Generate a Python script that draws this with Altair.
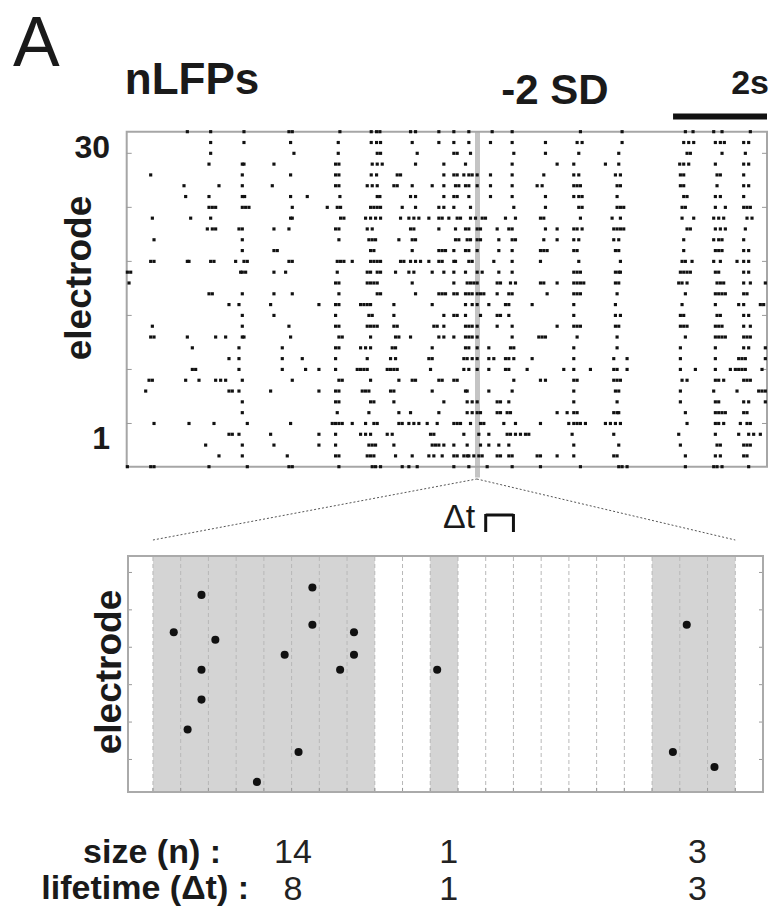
import altair as alt
import pandas as pd
import numpy as np

# ---------------- data ----------------
SAMPLE_RATE = 141.0          # Hz, raster sample rate
T_START, T_END = 78, 2000    # samples shown in the raster
N_ELECTRODES = 32
HIGHLIGHT_SAMPLE = 1131      # time window expanded below
SCALE_BAR_S = 2

# nLFP event samples per electrode row (top row first)
spike_samples_by_row = [
    [260, 330, 430, 565, 575, 718, 812, 828, 838, 930, 945, 1015, 1060, 1105, 1175, 1235, 1440, 1565, 1755, 1778, 1840, 1865, 1950],
    [330, 430, 570, 713, 812, 828, 840, 935, 1015, 1060, 1105, 1170, 1235, 1335, 1430, 1445, 1565, 1750, 1765, 1780, 1845, 1860, 1872, 1930, 1945],
    [330, 580, 713, 830, 840, 950, 1060, 1070, 1110, 1240, 1335, 1435, 1555, 1760, 1770, 1865, 1935],
    [325, 425, 430, 520, 705, 715, 815, 830, 845, 945, 1030, 1095, 1235, 1370, 1420, 1515, 1555, 1738, 1750, 1765, 1845, 1930, 1945],
    [150, 425, 570, 705, 715, 812, 828, 890, 900, 1030, 1060, 1070, 1090, 1105, 1115, 1130, 1170, 1235, 1330, 1420, 1435, 1545, 1560, 1740, 1750, 1850, 1860, 1930],
    [250, 355, 425, 515, 705, 715, 800, 815, 830, 880, 890, 935, 995, 1030, 1065, 1075, 1095, 1105, 1130, 1170, 1235, 1310, 1325, 1420, 1430, 1440, 1550, 1560, 1740, 1750, 1850, 1930, 1945],
    [255, 325, 425, 432, 570, 620, 718, 830, 838, 930, 945, 1030, 1060, 1070, 1105, 1170, 1235, 1335, 1420, 1435, 1445, 1550, 1750, 1760, 1845, 1860, 1930],
    [325, 335, 345, 425, 435, 445, 575, 680, 710, 720, 810, 820, 830, 840, 905, 945, 1015, 1030, 1060, 1110, 1240, 1335, 1435, 1445, 1550, 1560, 1570, 1745, 1755, 1845, 1875, 1930, 1940, 1950],
    [155, 270, 330, 570, 575, 720, 730, 795, 810, 825, 840, 900, 925, 940, 955, 985, 1015, 1025, 1045, 1070, 1080, 1110, 1125, 1145, 1155, 1215, 1245, 1320, 1330, 1440, 1535, 1560, 1745, 1780, 1840, 1855, 1870, 1940, 1955],
    [320, 335, 345, 415, 425, 520, 565, 705, 715, 800, 815, 930, 940, 1015, 1065, 1095, 1105, 1130, 1140, 1190, 1225, 1235, 1335, 1370, 1420, 1430, 1445, 1540, 1550, 1560, 1570, 1760, 1770, 1845, 1860, 1875, 1935],
    [160, 425, 715, 805, 815, 825, 895, 935, 945, 1065, 1075, 1100, 1110, 1130, 1140, 1195, 1235, 1245, 1330, 1370, 1420, 1435, 1540, 1555, 1750, 1840, 1855, 1865, 1930],
    [425, 520, 530, 810, 820, 935, 1015, 1025, 1035, 1060, 1095, 1105, 1130, 1195, 1235, 1320, 1330, 1340, 1420, 1430, 1545, 1555, 1750, 1845, 1855, 1865, 1930, 1945],
    [150, 160, 260, 265, 330, 340, 405, 430, 440, 565, 575, 710, 720, 730, 755, 810, 820, 830, 840, 900, 910, 930, 945, 960, 985, 1015, 1025, 1060, 1065, 1105, 1115, 1180, 1235, 1320, 1435, 1560, 1745, 1755, 1775, 1840, 1860, 1910, 1930, 1945],
    [80, 90, 420, 425, 435, 520, 555, 710, 800, 810, 830, 840, 885, 925, 940, 995, 1030, 1060, 1095, 1130, 1145, 1195, 1235, 1420, 1430, 1440, 1545, 1555, 1560, 1740, 1750, 1760, 1770, 1845, 1855, 1930, 1945],
    [85, 705, 715, 800, 810, 820, 830, 935, 1060, 1100, 1110, 1120, 1130, 1190, 1200, 1230, 1245, 1320, 1330, 1370, 1420, 1430, 1440, 1450, 1545, 1555, 1735, 1745, 1760, 1850, 1860, 1870, 1930, 1950, 1995],
    [325, 335, 425, 520, 575, 715, 830, 840, 945, 1015, 1025, 1035, 1060, 1070, 1095, 1105, 1115, 1130, 1140, 1150, 1190, 1225, 1235, 1340, 1420, 1430, 1440, 1550, 1755, 1845, 1855, 1865, 1875, 1930, 1940],
    [385, 415, 510, 655, 705, 715, 780, 790, 800, 810, 880, 995, 1095, 1115, 1130, 1165, 1215, 1225, 1295, 1420, 1545, 1745, 1845, 1915, 1930, 1980, 1990],
    [425, 520, 705, 805, 815, 880, 1030, 1060, 1070, 1095, 1140, 1190, 1200, 1225, 1420, 1545, 1560, 1740, 1750, 1850, 1860, 1930, 1945],
    [155, 425, 565, 705, 715, 800, 810, 820, 830, 880, 890, 1000, 1010, 1030, 1095, 1105, 1115, 1130, 1190, 1235, 1370, 1420, 1430, 1440, 1545, 1555, 1740, 1750, 1760, 1845, 1855, 1865, 1930, 1950],
    [150, 160, 260, 345, 375, 425, 430, 570, 715, 725, 810, 885, 895, 930, 1015, 1030, 1060, 1095, 1105, 1115, 1130, 1235, 1315, 1325, 1335, 1430, 1550, 1755, 1845, 1855, 1865, 1875, 1930, 1940, 1950],
    [275, 415, 545, 705, 715, 780, 795, 810, 875, 885, 995, 1095, 1105, 1130, 1165, 1230, 1240, 1420, 1550, 1740, 1845, 1930, 1945, 1995],
    [385, 415, 545, 605, 705, 800, 870, 885, 985, 995, 1090, 1100, 1115, 1130, 1165, 1180, 1215, 1225, 1240, 1295, 1420, 1540, 1580, 1740, 1845, 1915, 1925, 1935, 1995],
    [275, 285, 415, 545, 615, 655, 705, 770, 780, 790, 800, 860, 870, 880, 890, 990, 1090, 1105, 1130, 1165, 1215, 1225, 1280, 1390, 1420, 1470, 1540, 1550, 1580, 1740, 1785, 1845, 1890, 1905, 1915, 1925, 1935, 1985],
    [145, 155, 255, 295, 345, 360, 375, 425, 575, 715, 725, 810, 895, 935, 945, 1015, 1025, 1060, 1070, 1240, 1320, 1335, 1420, 1430, 1540, 1550, 1560, 1745, 1760, 1845, 1855, 1870, 1930, 1940, 1950],
    [135, 385, 395, 415, 510, 655, 705, 715, 785, 795, 805, 870, 880, 995, 1095, 1100, 1165, 1235, 1420, 1545, 1555, 1740, 1840, 1910, 1975, 1985, 1995],
    [425, 705, 715, 810, 820, 880, 1030, 1100, 1115, 1130, 1190, 1200, 1225, 1420, 1550, 1740, 1845, 1855, 1930, 1945, 1995],
    [425, 710, 805, 895, 930, 1015, 1100, 1115, 1130, 1140, 1190, 1200, 1220, 1230, 1370, 1400, 1420, 1430, 1540, 1550, 1555, 1755, 1845, 1855, 1865, 1875, 1930, 1940],
    [160, 265, 340, 440, 570, 695, 705, 715, 725, 755, 795, 820, 830, 895, 905, 925, 940, 955, 980, 1010, 1060, 1070, 1080, 1110, 1140, 1150, 1210, 1245, 1320, 1405, 1420, 1430, 1440, 1455, 1515, 1530, 1545, 1560, 1760, 1845, 1855, 1870, 1920, 1940, 1950],
    [385, 395, 415, 510, 655, 705, 780, 795, 810, 860, 875, 990, 1000, 1090, 1135, 1165, 1220, 1230, 1245, 1260, 1275, 1285, 1415, 1540, 1735, 1845, 1915, 1945, 1960, 1980],
    [315, 425, 520, 655, 705, 805, 815, 825, 880, 995, 1005, 1015, 1030, 1060, 1100, 1140, 1165, 1195, 1225, 1420, 1555, 1740, 1850, 1860, 1930, 1940, 1950],
    [355, 425, 560, 705, 715, 800, 810, 820, 885, 935, 985, 1000, 1025, 1060, 1070, 1090, 1100, 1105, 1120, 1135, 1145, 1190, 1200, 1225, 1235, 1310, 1320, 1370, 1420, 1540, 1550, 1755, 1845, 1860, 1930, 1940],
    [80, 150, 160, 325, 440, 565, 575, 715, 815, 825, 840, 905, 925, 950, 1060, 1105, 1160, 1235, 1320, 1440, 1555, 1565, 1580, 1755, 1840, 1850, 1865, 1945],
]

TICK_ELECTRODES = [4, 9, 14, 19, 24, 29]

# expanded window: events in sub-bin samples (2 samples per bin of width dt)
aval_samples = [1, 3, 3, 3, 2, 4, 7, 9, 10, 11, 11, 13, 14, 14, 20, 37, 38, 40]
aval_electrodes = [21, 26, 16, 12, 8, 20, 1, 18, 5, 27, 22, 16, 21, 18, 16, 5, 22, 3]
SAMPLES_PER_BIN = 2
N_BINS = 22
label_positions = [5.05, 10.67, 19.64]   # bin units for size/lifetime text

# ---------------- derived tables ----------------
SR = SAMPLE_RATE
t0, t1 = T_START / SR, T_END / SR
rows = []
for r, samples in enumerate(spike_samples_by_row):
    for s in samples:
        rows.append({"t": s / SR, "e": N_ELECTRODES - 1 - r})
raster = pd.DataFrame(rows)

aval = pd.DataFrame({"k": aval_samples, "e": aval_electrodes})
aval["u"] = (aval["k"] + 0.5) / SAMPLES_PER_BIN
aval["bin"] = aval["k"] // SAMPLES_PER_BIN

active = sorted(set(aval["bin"]))
groups = []
for b in active:
    if groups and b == groups[-1][-1] + 1:
        groups[-1].append(b)
    else:
        groups.append([b])
grey = pd.DataFrame({"x0": [g[0] for g in groups], "x1": [g[-1] + 1 for g in groups]})
sizes = [int(aval["bin"].isin(g).sum()) for g in groups]
lifetimes = [len(g) for g in groups]
stats = pd.DataFrame({"u": label_positions, "size": [str(s) for s in sizes],
                      "life": [str(l) for l in lifetimes]})

# ---------------- scales ----------------
XT = alt.Scale(domain=[t0, t1], range=[126.7, 767], nice=False, zero=False)
YT = alt.Scale(domain=[0, N_ELECTRODES - 1], range=[466.7, 131.7], nice=False, zero=False)
XB = alt.Scale(domain=[-0.9, N_BINS], range=[128, 763], nice=False, zero=False)
YB = alt.Scale(domain=[-0.35, 31.2], range=[792, 556], nice=False, zero=False)

def q(field, scale, ch="x"):
    enc = {"x": alt.X, "y": alt.Y}[ch]
    return enc(field, type="quantitative", scale=scale, axis=None)

FONT = "Liberation Sans"
layers = []

# ---- top raster ----
hl = pd.DataFrame({"t": [HIGHLIGHT_SAMPLE / SR], "y0": [-1.0], "y1": [N_ELECTRODES - 1]})
layers.append(alt.Chart(hl).mark_rule(color="#c4c4c4", strokeWidth=5).encode(
    x=q("t", XT), y=q("y0", YT, "y"), y2=alt.Y2("y1")))

frame_t = pd.DataFrame({"x0": [t0], "x1": [t1], "y0": [0], "y1": [N_ELECTRODES - 1]})
layers.append(alt.Chart(frame_t).mark_rect(fillOpacity=0, stroke="#a6a6a6", strokeWidth=2).encode(
    x=q("x0", XT), x2=alt.X2("x1"), y=q("y0", YT, "y"), y2=alt.Y2("y1")))

tick_len = 5 / 47.0
tk = pd.DataFrame({"e": TICK_ELECTRODES * 2,
                   "a": [t0] * 6 + [t1 - tick_len] * 6,
                   "b": [t0 + tick_len] * 6 + [t1] * 6})
layers.append(alt.Chart(tk).mark_rule(color="#9a9a9a", strokeWidth=1).encode(
    x=q("a", XT), x2=alt.X2("b"), y=q("e", YT, "y")))

layers.append(alt.Chart(raster).mark_square(size=10, color="#111111", opacity=1).encode(
    x=q("t", XT), y=q("e", YT, "y")))

bar = pd.DataFrame({"a": [t1 - SCALE_BAR_S], "b": [t1]})
layers.append(alt.Chart(bar).mark_rule(color="#111111", strokeWidth=6).encode(
    x=q("a", XT), x2=alt.X2("b"), y=alt.value(116.5)))

# ---- bottom expanded panel ----
layers.append(alt.Chart(grey).mark_rect(color="#d4d4d4").encode(
    x=q("x0", XB), x2=alt.X2("x1"), y=alt.value(556), y2=alt.value(792)))

edges = pd.DataFrame({"u": list(range(0, N_BINS)), "y0": -0.35, "y1": 31.2})
layers.append(alt.Chart(edges).mark_rule(color="#b8b8b8", strokeWidth=1, strokeDash=[4, 3]).encode(
    x=q("u", XB), y=q("y0", YB, "y"), y2=alt.Y2("y1")))

btk = pd.DataFrame({"u": list(range(0, N_BINS)), "y0": -0.35, "y1": 0.2})
layers.append(alt.Chart(btk).mark_rule(color="#999999", strokeWidth=1).encode(
    x=q("u", XB), y=q("y0", YB, "y"), y2=alt.Y2("y1")))

tl = 4 / 27.75
ytk = pd.DataFrame({"e": TICK_ELECTRODES * 2,
                    "a": [-0.9] * 6 + [N_BINS - tl] * 6,
                    "b": [-0.9 + tl] * 6 + [N_BINS] * 6})
layers.append(alt.Chart(ytk).mark_rule(color="#999999", strokeWidth=1).encode(
    x=q("a", XB), x2=alt.X2("b"), y=q("e", YB, "y")))

frame_b = pd.DataFrame({"x0": [-0.9], "x1": [N_BINS], "y0": [-0.35], "y1": [31.2]})
layers.append(alt.Chart(frame_b).mark_rect(fillOpacity=0, stroke="#aaaaaa", strokeWidth=2).encode(
    x=q("x0", XB), x2=alt.X2("x1"), y=q("y0", YB, "y"), y2=alt.Y2("y1")))

layers.append(alt.Chart(aval).mark_circle(size=65, color="#111111", opacity=1).encode(
    x=q("u", XB), y=q("e", YB, "y")))

# connector (dotted) lines from highlighted window to expanded panel
conn = pd.DataFrame({"a": [0.0, 11.68], "b": [11.68, 21.0],
                     "ya": [540, 479], "yb": [479, 540]})
for i in range(2):
    layers.append(alt.Chart(conn.iloc[[i]]).mark_rule(color="#555555", strokeWidth=1, strokeDash=[2, 2]).encode(
        x=q("a", XB), x2=alt.X2("b"), y=alt.value(float(conn["ya"][i])), y2=alt.value(float(conn["yb"][i]))))

# dt bracket (one bin wide)
brk_h = pd.DataFrame({"a": [12.0], "b": [13.0]})
layers.append(alt.Chart(brk_h).mark_rule(color="#111111", strokeWidth=3).encode(
    x=q("a", XB), x2=alt.X2("b"), y=alt.value(515)))
brk_v = pd.DataFrame({"a": [12.0, 13.0]})
layers.append(alt.Chart(brk_v).mark_rule(color="#111111", strokeWidth=3).encode(
    x=q("a", XB), y=alt.value(514), y2=alt.value(532)))

# size / lifetime numbers
layers.append(alt.Chart(stats).mark_text(font=FONT, fontSize=34, align="center", baseline="alphabetic", color="#222222").encode(
    x=q("u", XB), y=alt.value(863), text="size:N"))
layers.append(alt.Chart(stats).mark_text(font=FONT, fontSize=34, align="center", baseline="alphabetic", color="#222222").encode(
    x=q("u", XB), y=alt.value(900), text="life:N"))

# ---- text annotations ----
def txt(s, x, y, size, weight="normal", align="left", angle=0):
    kw = dict(font=FONT, fontSize=size, fontWeight=weight, align=align,
              baseline="alphabetic", color="#1a1a1a")
    if angle:
        kw["angle"] = angle
        kw["baseline"] = "middle"
    return alt.Chart(pd.DataFrame({"t": [s]})).mark_text(**kw).encode(
        text="t:N", x=alt.value(x), y=alt.value(y))

layers += [
    txt("A", 13, 66, 70),
    txt("nLFPs", 192, 94, 44, "bold", "center"),
    txt("-2 SD", 555, 104, 42, "bold", "center"),
    txt("2s", 769, 94, 34, "bold", "right"),
    txt("30", 110, 158, 32, "bold", "right"),
    txt("1", 110, 449, 32, "bold", "right"),
    txt("electrode", 80, 278, 37, "bold", "center", 270),
    txt("electrode", 110, 672, 37, "bold", "center", 270),
    txt("\u0394t", 459, 528, 34, "normal", "center"),
    txt("size (n) :", 221, 863, 34, "bold", "right"),
    txt("lifetime (\u0394t) :", 249, 899, 34, "bold", "right"),
]

chart = alt.layer(*layers).resolve_scale(x="independent", y="independent").properties(
    width=775, height=913, padding=0,
    autosize=alt.AutoSizeParams(type="none"),
    background="white",
).configure_view(strokeWidth=0)

chart.save("out.html", embed_options={"renderer": "svg", "actions": False})
